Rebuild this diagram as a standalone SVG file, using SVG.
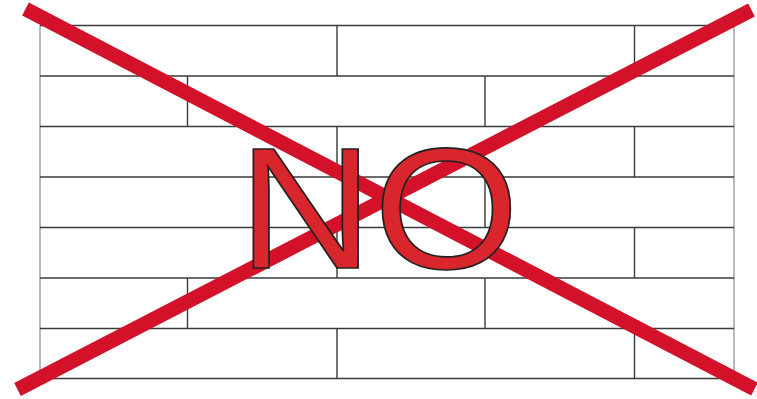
<svg xmlns="http://www.w3.org/2000/svg" width="757" height="399" viewBox="0 0 757 399">
<style>
.h{stroke:#3a3a3a;stroke-width:1.4;fill:none}
.v{stroke:#3a3a3a;stroke-width:1.4;fill:none}
.edge{stroke:#8a8a8a;stroke-width:1.2;fill:none}
.x{stroke:#d3122a;stroke-width:14.5;stroke-linecap:butt;fill:none}
.no{font-family:"Liberation Sans",Arial,sans-serif;font-size:172px;fill:#d9262c;stroke:#222;stroke-width:1.6}
</style>
<rect width="757" height="399" fill="#fff"/>
<g id="planks">
<line class="edge" x1="40" y1="25.5" x2="40" y2="378.5"/>
<line class="edge" x1="734" y1="25.5" x2="734" y2="378.5"/>
<line class="h" x1="40" y1="25.5" x2="734" y2="25.5"/>
<line class="h" x1="40" y1="76" x2="734" y2="76"/>
<line class="h" x1="40" y1="126.5" x2="734" y2="126.5"/>
<line class="h" x1="40" y1="177" x2="734" y2="177"/>
<line class="h" x1="40" y1="227.5" x2="734" y2="227.5"/>
<line class="h" x1="40" y1="278" x2="734" y2="278"/>
<line class="h" x1="40" y1="328.5" x2="734" y2="328.5"/>
<line class="h" x1="40" y1="378.5" x2="734" y2="378.5"/>
<line class="v" x1="337" y1="25.5" x2="337" y2="76"/>
<line class="v" x1="634.5" y1="25.5" x2="634.5" y2="76"/>
<line class="v" x1="187.5" y1="76" x2="187.5" y2="126.5"/>
<line class="v" x1="485" y1="76" x2="485" y2="126.5"/>
<line class="v" x1="337" y1="126.5" x2="337" y2="177"/>
<line class="v" x1="634.5" y1="126.5" x2="634.5" y2="177"/>
<line class="v" x1="485" y1="177" x2="485" y2="227.5"/>
<line class="v" x1="337" y1="227.5" x2="337" y2="278"/>
<line class="v" x1="634.5" y1="227.5" x2="634.5" y2="278"/>
<line class="v" x1="187.5" y1="278" x2="187.5" y2="328.5"/>
<line class="v" x1="485" y1="278" x2="485" y2="328.5"/>
<line class="v" x1="337" y1="328.5" x2="337" y2="378.5"/>
<line class="v" x1="634.5" y1="328.5" x2="634.5" y2="378.5"/>
</g>
<g id="cross">
<line class="x" x1="25.5" y1="9" x2="754.5" y2="389"/>
<line class="x" x1="751.5" y1="10" x2="17.5" y2="389.5"/>
</g>
<g id="label">
<text class="no" transform="translate(238,267.5) scale(1.09,1)" x="0" y="0">NO</text>
</g>
</svg>
